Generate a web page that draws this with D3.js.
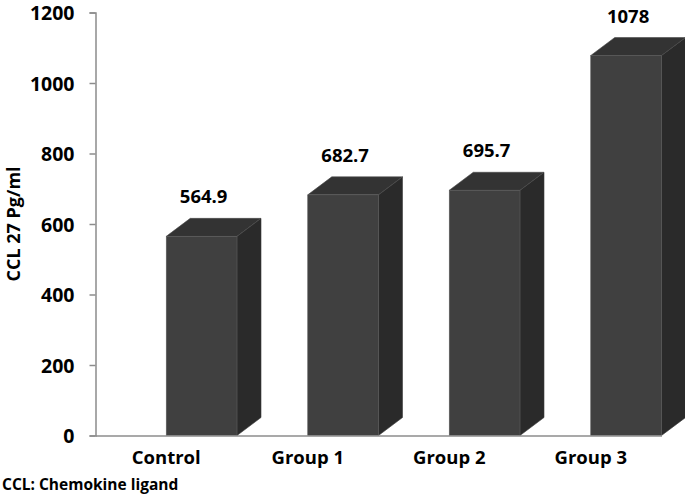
<!DOCTYPE html>
<html>
<head>
<meta charset="utf-8">
<script src="https://cdn.jsdelivr.net/npm/d3@7"></script>
<style>
  html, body { margin: 0; padding: 0; background: #fff; }
  svg { display: block; }
  text { font-family: "Open Sans", Lato, sans-serif; font-weight: bold; fill: #000; }
</style>
</head>
<body>
<svg id="chart" width="685" height="496"></svg>
<script>
const categories = ["Control", "Group 1", "Group 2", "Group 3"];
const values = [564.9, 682.7, 695.7, 1078];
const valueLabels = ["564.9", "682.7", "695.7", "1078"];
const yTicks = [0, 200, 400, 600, 800, 1000, 1200];
const yTitle = "CCL 27 Pg/ml";
const footnote = "CCL: Chemokine ligand";

const svg = d3.select("#chart");
const x = d3.scaleBand().domain(categories).range([95.5, 661.5]).padding(0);
const y = d3.scaleLinear().domain([0, 1200]).range([435.5, 12.5]);
const dx = 24, dy = 18;
const FONT = "'Open Sans', Lato, sans-serif";

// bars
const g = svg.append("g");
categories.forEach((c, i) => {
  const x0 = x(c) + x.bandwidth() / 2;
  const w = x.bandwidth() / 2;
  const x1 = x0 + w;
  const yt = y(values[i]);
  const yb = y(0);
  // side
  g.append("path")
    .attr("d", `M${x1},${yt} L${x1 + dx},${yt - dy} L${x1 + dx},${yb - dy} L${x1},${yb} Z`)
    .attr("fill", "#2a2a2a").attr("stroke", "#3a3a3a").attr("stroke-width", 0.6);
  // top
  g.append("path")
    .attr("d", `M${x0},${yt} L${x0 + dx},${yt - dy} L${x1 + dx},${yt - dy} L${x1},${yt} Z`)
    .attr("fill", "#333333").attr("stroke", "#4a4a4a").attr("stroke-width", 0.6);
  // front
  g.append("rect")
    .attr("x", x0).attr("y", yt).attr("width", w).attr("height", yb - yt)
    .attr("fill", "#404040").attr("stroke", "#5a5a5a").attr("stroke-width", 0.6);
  // value label
  g.append("text")
    .attr("x", x0 + w / 2 + 2)
    .attr("y", yt - 33)
    .attr("text-anchor", "middle")
    .attr("font-size", 18.5)
    .text(valueLabels[i]);
});

// y axis
const yAxis = d3.axisLeft(y).tickValues(yTicks).tickFormat(d3.format("d")).tickSize(6).tickPadding(15);
const ya = svg.append("g").attr("transform", "translate(95.5,0)").call(yAxis);
ya.select(".domain").attr("stroke", "#8c8c8c").attr("stroke-width", 1.5);
ya.selectAll(".tick line").attr("stroke", "#8c8c8c").attr("stroke-width", 1.5);
ya.selectAll(".tick text")
  .attr("font-size", 19.5)
  .attr("font-family", FONT)
  .attr("font-weight", "bold")
  .attr("fill", "#000")
  .attr("dy", "0.36em");

// x axis baseline
const xAxis = d3.axisBottom(x).tickSize(0).tickPadding(15);
const xa = svg.append("g").attr("transform", `translate(0,${y(0)})`).call(xAxis);
xa.select(".domain").attr("stroke", "#8c8c8c").attr("stroke-width", 1.5);
xa.selectAll(".tick text")
  .attr("font-size", 18.5)
  .attr("font-family", FONT)
  .attr("font-weight", "bold")
  .attr("fill", "#000")
  .attr("dy", "0.71em");

// y title
svg.append("text")
  .attr("transform", "translate(20,224) rotate(-90)")
  .attr("text-anchor", "middle")
  .attr("font-size", 18)
  .text(yTitle);

// footnote
svg.append("text")
  .attr("x", 2).attr("y", 490)
  .attr("font-size", 15.5)
  .text(footnote);
</script>
</body>
</html>
